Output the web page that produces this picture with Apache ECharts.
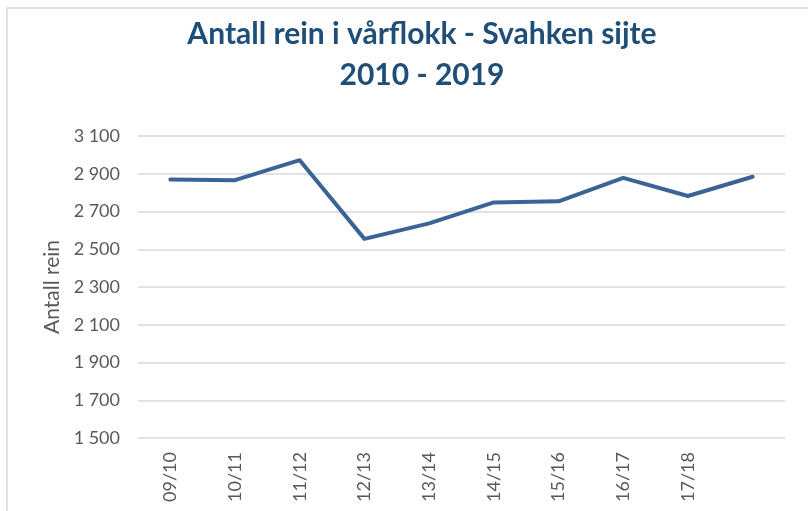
<!DOCTYPE html>
<html>
<head>
<meta charset="utf-8">
<script src="https://cdn.jsdelivr.net/npm/echarts@6/dist/echarts.min.js"></script>
<style>
  html, body { margin: 0; padding: 0; background: #fff; }
  #main { width: 808px; height: 511px; }
</style>
</head>
<body>
<div id="main"></div>
<script>
// sesonger (siste sesong har ingen etikett i originalen)
var seasons = ['09/10', '10/11', '11/12', '12/13', '13/14', '14/15', '15/16', '16/17', '17/18', '18/19'];
var xLabels = ['09/10', '10/11', '11/12', '12/13', '13/14', '14/15', '15/16', '16/17', '17/18', ''];
// antall rein i vårflokk
var antallRein = [2870, 2866, 2972, 2555, 2637, 2748, 2754, 2878, 2782, 2884];
var yTicks = [1500, 1700, 1900, 2100, 2300, 2500, 2700, 2900, 3100];

var myChart = echarts.init(document.getElementById('main'));

var option = {
  backgroundColor: '#fff',
  title: {
    text: 'Antall rein i vårflokk - Svahken sijte\n2010 - 2019',
    left: 417,
    textAlign: 'center',
    top: 9,
    textStyle: {
      fontFamily: 'Lato',
      fontWeight: 'bold',
      fontSize: 30,
      lineHeight: 41,
      color: '#1f4e79'
    }
  },
  graphic: [{
    type: 'rect',
    shape: { x: 7, y: 8, width: 900, height: 600 },
    style: { fill: 'none', stroke: '#d9d9d9', lineWidth: 1.5 },
    silent: true
  }],
  grid: { left: 138, right: 23, top: 136, bottom: 73 },
  xAxis: {
    type: 'category',
    data: seasons,
    boundaryGap: true,
    axisLine: { show: false },
    axisTick: { show: false },
    axisLabel: {
      rotate: 90,
      margin: 14,
      interval: 0,
      fontFamily: 'Lato',
      fontSize: 18,
      color: '#595959',
      formatter: function (v, i) { return xLabels[i]; }
    }
  },
  yAxis: {
    type: 'value',
    min: yTicks[0],
    max: yTicks[yTicks.length - 1],
    interval: 200,
    name: 'Antall rein',
    nameLocation: 'middle',
    nameGap: 74,
    nameTextStyle: { fontFamily: 'Lato', fontSize: 21, color: '#595959' },
    axisLine: { show: false },
    axisTick: { show: false },
    splitLine: { lineStyle: { color: '#d9d9d9', width: 1.5 } },
    axisLabel: {
      margin: 18,
      fontFamily: 'Lato',
      fontSize: 18,
      color: '#595959',
      formatter: function (v) {
        return String(v).replace(/\B(?=(\d{3})+(?!\d))/g, ' ');
      }
    }
  },
  series: [{
    type: 'line',
    data: antallRein,
    symbol: 'none',
    lineStyle: { color: '#3a6496', width: 4, join: 'round', cap: 'round' }
  }],
  animation: false
};

myChart.setOption(option);
</script>
</body>
</html>
